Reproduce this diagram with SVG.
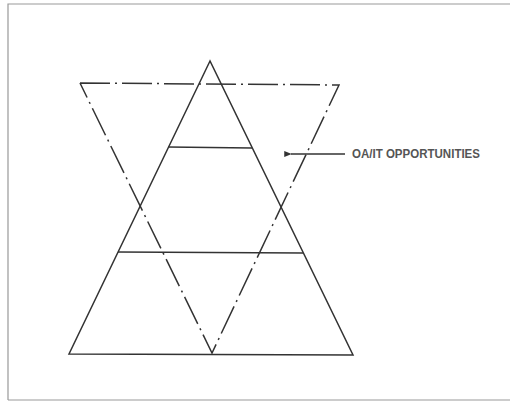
<svg xmlns="http://www.w3.org/2000/svg" width="510" height="404" viewBox="0 0 510 404">
<style>
.s{fill:none;stroke:#333;stroke-width:1.5;stroke-linejoin:miter}
.d{fill:none;stroke:#333;stroke-width:1.5;stroke-dasharray:30 5 2 5}
.t{font-family:"Liberation Sans",Arial,sans-serif;font-size:13px;fill:#555;font-weight:bold}
</style>
<defs>
<marker id="ah" viewBox="0 0 10 10" refX="1" refY="5" markerWidth="6" markerHeight="5" orient="auto-start-reverse">
<path d="M0,5 L10,1 L10,9 Z" fill="#333"/>
</marker>
</defs>
<rect x="0" y="0" width="510" height="404" fill="#fff"/>
<path d="M8,400 L8,4 L510,4 M8,400 L510,400" fill="none" stroke="#999" stroke-width="1.2"/>
<g id="upright-triangle">
<path class="s" d="M210,61 L69,354 L353,355 Z"/>
<line class="s" x1="168" y1="147" x2="252" y2="148"/>
<line class="s" x1="118" y1="252" x2="303" y2="253"/>
</g>
<g id="inverted-triangle">
<path class="d" d="M80,83 L339,85 L212,353 L80,83"/>
</g>
<g id="connectors">
<line x1="345" y1="154" x2="291" y2="154" stroke="#333" stroke-width="1.5" marker-end="url(#ah)"/>
</g>
<g id="label">
<text class="t" x="352" y="158" textLength="128" lengthAdjust="spacingAndGlyphs">OA/IT OPPORTUNITIES</text>
</g>
</svg>
